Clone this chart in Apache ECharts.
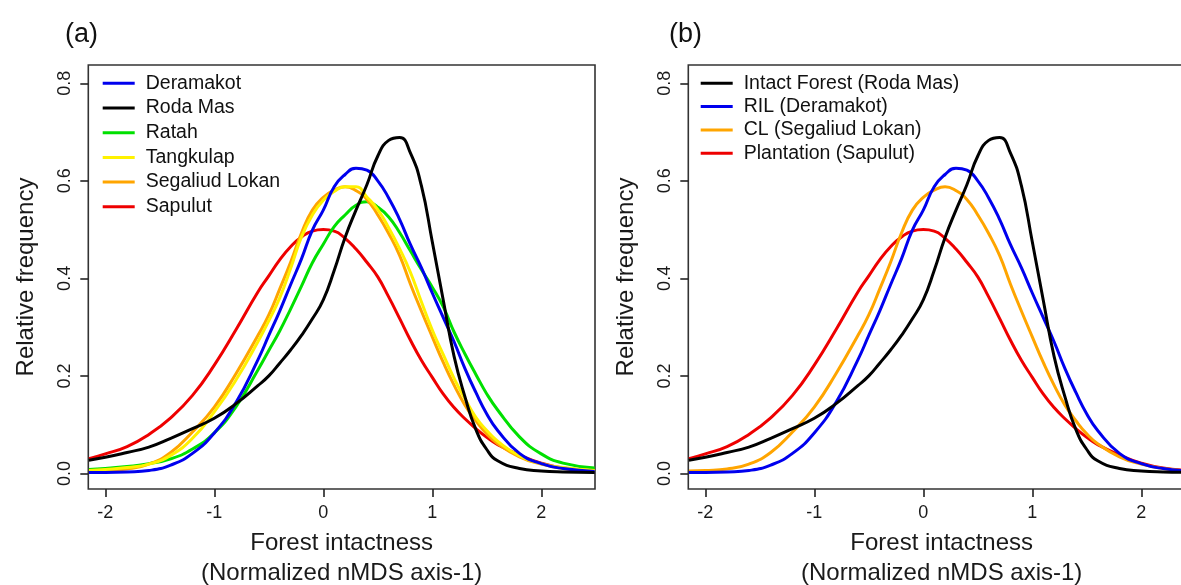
<!DOCTYPE html>
<html>
<head>
<meta charset="utf-8">
<script src="https://cdn.jsdelivr.net/npm/echarts@6/dist/echarts.min.js"></script>
<style>
html,body{margin:0;padding:0;background:#fff;}
#chart{width:1181px;height:585px;}
</style>
</head>
<body>
<div id="chart"></div>
<script>
// x positions (Normalized nMDS axis-1)
const xGrid = [-2.15, -2.0, -1.8, -1.6, -1.4, -1.2, -1.0, -0.8, -0.6, -0.5, -0.4, -0.3, -0.2, -0.1, 0.0, 0.1, 0.2, 0.3, 0.4, 0.5, 0.6, 0.7, 0.8, 0.9, 1.0, 1.1, 1.2, 1.3, 1.4, 1.5, 1.6, 1.8, 2.0, 2.2, 2.49];

// relative frequency per site
const deramakot     = [0.002, 0.002, 0.003, 0.006, 0.017, 0.041, 0.083, 0.146, 0.233, 0.283, 0.333, 0.387, 0.440, 0.499, 0.540, 0.588, 0.613, 0.626, 0.622, 0.600, 0.565, 0.521, 0.469, 0.422, 0.370, 0.320, 0.270, 0.215, 0.166, 0.122, 0.088, 0.041, 0.020, 0.010, 0.004];
const rodaMas       = [0.027, 0.033, 0.043, 0.054, 0.072, 0.092, 0.113, 0.143, 0.180, 0.200, 0.226, 0.253, 0.283, 0.317, 0.356, 0.416, 0.484, 0.540, 0.592, 0.651, 0.683, 0.689, 0.657, 0.590, 0.475, 0.356, 0.240, 0.157, 0.090, 0.049, 0.026, 0.010, 0.005, 0.003, 0.002];
const ratah         = [0.008, 0.010, 0.014, 0.020, 0.030, 0.050, 0.083, 0.137, 0.212, 0.252, 0.292, 0.337, 0.384, 0.432, 0.470, 0.506, 0.530, 0.550, 0.557, 0.546, 0.526, 0.494, 0.456, 0.418, 0.382, 0.342, 0.290, 0.245, 0.203, 0.163, 0.130, 0.075, 0.040, 0.021, 0.011];
const tangkulap     = [0.006, 0.008, 0.012, 0.019, 0.037, 0.072, 0.126, 0.192, 0.270, 0.313, 0.360, 0.420, 0.485, 0.530, 0.560, 0.578, 0.588, 0.588, 0.567, 0.541, 0.504, 0.461, 0.412, 0.352, 0.294, 0.244, 0.195, 0.153, 0.115, 0.088, 0.066, 0.036, 0.020, 0.012, 0.006];
const segaliudLokan = [0.005, 0.006, 0.009, 0.019, 0.043, 0.085, 0.136, 0.205, 0.283, 0.325, 0.378, 0.433, 0.493, 0.540, 0.566, 0.581, 0.588, 0.580, 0.562, 0.530, 0.492, 0.447, 0.388, 0.333, 0.280, 0.228, 0.181, 0.140, 0.108, 0.081, 0.061, 0.034, 0.019, 0.010, 0.004];
const sapulut       = [0.030, 0.040, 0.055, 0.080, 0.114, 0.160, 0.222, 0.295, 0.372, 0.405, 0.438, 0.465, 0.485, 0.497, 0.500, 0.497, 0.482, 0.460, 0.433, 0.403, 0.362, 0.318, 0.273, 0.232, 0.197, 0.163, 0.135, 0.112, 0.092, 0.074, 0.059, 0.038, 0.021, 0.011, 0.005];

const xTicks = [-2, -1, 0, 1, 2];
const yTicks = [0, 0.2, 0.4, 0.6, 0.8];

const panelLabels = ['(a)', '(b)'];
const xTitle = 'Forest intactness\n(Normalized nMDS axis-1)';
const yTitle = 'Relative frequency';

// panel (a) series: name, values, colour (legend order)
const namesA  = ['Deramakot', 'Roda Mas', 'Ratah', 'Tangkulap', 'Segaliud Lokan', 'Sapulut'];
const valuesA = [deramakot, rodaMas, ratah, tangkulap, segaliudLokan, sapulut];
const colorsA = ['#0000ee', '#000000', '#00e000', '#fff200', '#ffa500', '#ee0000'];
const drawOrderA = [5, 2, 4, 3, 0, 1];

// panel (b)
const namesB  = ['Intact Forest (Roda Mas)', 'RIL (Deramakot)', 'CL (Segaliud Lokan)', 'Plantation (Sapulut)'];
const valuesB = [rodaMas, deramakot, segaliudLokan, sapulut];
const colorsB = ['#000000', '#0000ee', '#ffa500', '#ee0000'];
const drawOrderB = [3, 2, 1, 0];

const FONT = '"Liberation Sans", Arial, sans-serif';
const X_MIN = -2.156, X_MAX = 2.493, Y_MIN = -0.032, Y_MAX = 0.8376;

function pairs(vals) { return xGrid.map((x, i) => [x, vals[i]]); }

function makeXAxis(gi) {
  return {
    type: 'value', gridIndex: gi, min: X_MIN, max: X_MAX,
    splitLine: { show: false },
    axisLine: { show: false, onZero: false },
    axisTick: { show: true, inside: false, length: 8, lineStyle: { color: '#222', width: 1.6 }, customValues: xTicks },
    axisLabel: { show: true, customValues: xTicks, margin: 15, color: '#1a1a1a', fontSize: 18, fontFamily: FONT,
                 formatter: v => String(Math.round(v)) },
    name: xTitle, nameLocation: 'middle', nameGap: 39,
    nameTextStyle: { fontSize: 24, fontFamily: FONT, color: '#1a1a1a', lineHeight: 30 }
  };
}
function makeYAxis(gi) {
  return {
    type: 'value', gridIndex: gi, min: Y_MIN, max: Y_MAX,
    splitLine: { show: false },
    axisLine: { show: false, onZero: false },
    axisTick: { show: true, inside: false, length: 8, lineStyle: { color: '#222', width: 1.6 }, customValues: yTicks },
    axisLabel: { show: true, customValues: yTicks, rotate: 90, margin: 14, color: '#1a1a1a', fontSize: 18, fontFamily: FONT,
                 formatter: v => v.toFixed(1) },
    name: yTitle, nameLocation: 'middle', nameGap: 50, nameRotate: 90,
    nameTextStyle: { fontSize: 24, fontFamily: FONT, color: '#1a1a1a' }
  };
}

const series = [];
drawOrderA.forEach(i => series.push({
  name: namesA[i], type: 'line', xAxisIndex: 0, yAxisIndex: 0,
  data: pairs(valuesA[i]), smooth: 0.5, symbol: 'none', showSymbol: false,
  lineStyle: { width: 3, color: colorsA[i] }, itemStyle: { color: colorsA[i] }
}));
drawOrderB.forEach(i => series.push({
  name: namesB[i], type: 'line', xAxisIndex: 1, yAxisIndex: 1,
  data: pairs(valuesB[i]), smooth: 0.5, symbol: 'none', showSymbol: false,
  lineStyle: { width: 3, color: colorsB[i] }, itemStyle: { color: colorsB[i] }
}));

const legendCommon = {
  orient: 'vertical', padding: 0, itemWidth: 32, itemHeight: 3, icon: 'rect',
  textStyle: { fontSize: 19.5, fontFamily: FONT, color: '#111', lineHeight: 20, padding: [0, 0, 0, 6] },
  selectedMode: false
};

const gridCommon = { top: 65, width: 506.7, height: 424, show: true, borderColor: '#333', borderWidth: 1.6,
                     backgroundColor: 'transparent', containLabel: false, outerBoundsMode: 'none' };

const chart = echarts.init(document.getElementById('chart'), null, { renderer: 'canvas' });
chart.setOption({
  animation: false,
  backgroundColor: '#ffffff',
  title: [
    { text: panelLabels[0], left: 60, top: 16, textStyle: { fontSize: 27, fontWeight: 'normal', fontFamily: FONT, color: '#111' } },
    { text: panelLabels[1], left: 664, top: 16, textStyle: { fontSize: 27, fontWeight: 'normal', fontFamily: FONT, color: '#111' } }
  ],
  grid: [
    Object.assign({}, gridCommon, { left: 88.3 }),
    Object.assign({}, gridCommon, { left: 688.3 })
  ],
  xAxis: [makeXAxis(0), makeXAxis(1)],
  yAxis: [makeYAxis(0), makeYAxis(1)],
  legend: [
    Object.assign({}, legendCommon, { data: namesA, left: 102.7, top: 73.3, itemGap: 4.7 }),
    Object.assign({}, legendCommon, { data: namesB, left: 700.7, top: 73.3, itemGap: 3.3 })
  ],
  series: series
});
</script>
</body>
</html>
